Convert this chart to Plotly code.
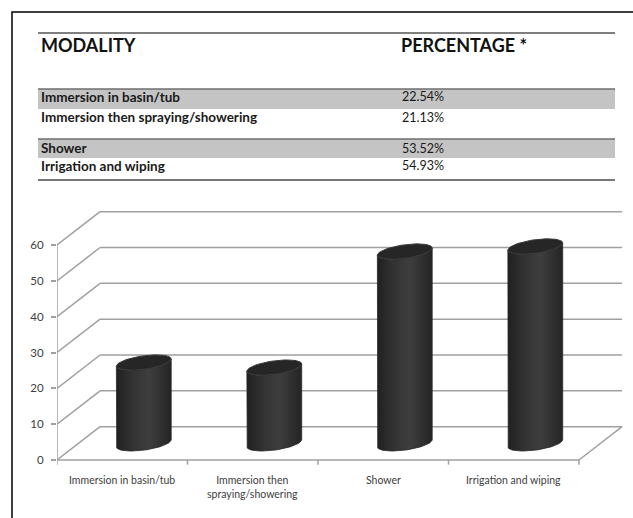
import numpy as np
import plotly.graph_objects as go

# ---------------- data ----------------
categories = ["Immersion in basin/tub", "Immersion then spraying/showering", "Shower", "Irrigation and wiping"]
axis_labels = ["Immersion in basin/tub", "Immersion then<br>spraying/showering", "Shower", "Irrigation and wiping"]
percentages = [22.54, 21.13, 53.52, 54.93]
y_ticks = [0, 10, 20, 30, 40, 50, 60]
table_header = ["MODALITY", "PERCENTAGE *"]

# ---------------- layout geometry ----------------
W, H = 633, 518
L, R, T, B = 57, 626, 200, 470          # plot area in pixels
SX = 130.5                              # px per category
Y0_PX = 460                             # pixel of value 0 on front plane
SY = (Y0_PX - 245) / 60.0               # px per value unit
x_range = [-0.5, -0.5 + (R - L) / SX]
y_range = [-(B - Y0_PX) / SY, (Y0_PX - T) / SY]
DX, DY = 0.33, 9.3                      # depth offset (data units)

def px(x):
    return (x - L) / (R - L)

def py(y):
    return (B - y) / (B - T)

FONT = "Lato"
GRID = "#a0a0a0"

shapes = []
annotations = []

# outer frame
shapes.append(dict(type="rect", xref="paper", yref="paper", x0=px(12), x1=px(660),
                   y0=py(12), y1=py(560), line=dict(color="black", width=1.5), layer="below"))

# ---------------- table ----------------
n = len(categories)
row_y = [97, 117, 148, 166]
band_top = [89, 139]
band_bot = [109, 158]
for bt, bb in zip(band_top, band_bot):
    shapes.append(dict(type="rect", xref="paper", yref="paper", x0=px(38), x1=px(615),
                       y0=py(bb), y1=py(bt), fillcolor="#c4c4c4", line=dict(width=0), layer="below"))
    shapes.append(dict(type="line", xref="paper", yref="paper", x0=px(38), x1=px(615),
                       y0=py(bt), y1=py(bt), line=dict(color="#6e6e6e", width=1.5), layer="below"))
for yy, w, c in [(33, 1.5, "#555555"), (180, 2, "#777777")]:
    shapes.append(dict(type="line", xref="paper", yref="paper", x0=px(38), x1=px(615),
                       y0=py(yy), y1=py(yy), line=dict(color=c, width=w), layer="below"))

annotations.append(dict(xref="paper", yref="paper", x=px(39), y=py(45), text="<b>%s</b>" % table_header[0],
                        showarrow=False, xanchor="left", yanchor="middle",
                        font=dict(family=FONT, size=18, color="#111111")))
annotations.append(dict(xref="paper", yref="paper", x=px(399), y=py(45), text="<b>%s</b>" % table_header[1],
                        showarrow=False, xanchor="left", yanchor="middle",
                        font=dict(family=FONT, size=18, color="#111111")))
for i in range(n):
    annotations.append(dict(xref="paper", yref="paper", x=px(39), y=py(row_y[i]),
                            text="<b>%s</b>" % categories[i], showarrow=False,
                            xanchor="left", yanchor="middle",
                            font=dict(family=FONT, size=13.5, color="#1a1a1a")))
    annotations.append(dict(xref="paper", yref="paper", x=px(400), y=py(row_y[i]),
                            text="%.2f%%" % percentages[i], showarrow=False,
                            xanchor="left", yanchor="middle",
                            font=dict(family=FONT, size=12.5, color="#1a1a1a")))

# ---------------- 3D frame ----------------
for v in y_ticks:
    shapes.append(dict(type="line", x0=-0.5 + DX, x1=n - 0.5 + DX, y0=v + DY, y1=v + DY,
                       line=dict(color=GRID, width=1.5), layer="below"))
    shapes.append(dict(type="line", x0=-0.5, x1=-0.5 + DX, y0=v, y1=v + DY,
                       line=dict(color=GRID, width=1.5), layer="below"))
# floor
shapes.append(dict(type="line", x0=-0.5, x1=n - 0.5, y0=0, y1=0, line=dict(color=GRID, width=1.5), layer="below"))
shapes.append(dict(type="line", x0=n - 0.5, x1=n - 0.5 + DX, y0=0, y1=DY, line=dict(color=GRID, width=1.5), layer="below"))
# y axis line
shapes.append(dict(type="line", x0=-0.5, x1=-0.5, y0=0, y1=max(y_ticks), line=dict(color=GRID, width=1.5), layer="below"))
# x ticks
for k in range(n + 1):
    shapes.append(dict(type="line", x0=k - 0.5, x1=k - 0.5, y0=0, y1=-1.3,
                       line=dict(color=GRID, width=1.5), layer="below"))

# ---------------- cylinders ----------------
fig = go.Figure()
a = 0.21        # half width (category units)
b = 1.9         # half height of ellipse (value units)
k_tilt = 1.0    # tilt of ellipse
for i, v in enumerate(percentages):
    cx = i + DX / 2
    base = DY / 2
    top = base + v
    t_front = np.linspace(np.pi, 2 * np.pi, 40)
    bx = cx + a * np.cos(t_front)
    by = base + b * np.sin(t_front) + k_tilt * np.cos(t_front)
    tx = (cx + a * np.cos(t_front))[::-1]
    ty = (top + b * np.sin(t_front) + k_tilt * np.cos(t_front))[::-1]
    xs = np.concatenate([[cx - a], bx, tx, [cx - a]])
    ys = np.concatenate([[top - k_tilt], by, ty, [top - k_tilt]])
    fig.add_trace(go.Scatter(x=xs, y=ys, mode="lines", fill="toself",
                             line=dict(color="#262626", width=0.8),
                             fillgradient=dict(type="horizontal",
                                               colorscale=[[0, "#202020"], [0.3, "#333333"],
                                                           [0.6, "#3e3e3e"], [1, "#242424"]]),
                             hoverinfo="skip", showlegend=False))
    t_all = np.linspace(0, 2 * np.pi, 80)
    fig.add_trace(go.Scatter(x=cx + a * np.cos(t_all),
                             y=top + b * np.sin(t_all) + k_tilt * np.cos(t_all),
                             mode="lines", fill="toself", fillcolor="#262626",
                             line=dict(color="#3a3a3a", width=1),
                             hoverinfo="skip", showlegend=False))

# x category labels
for i, lab in enumerate(axis_labels):
    annotations.append(dict(x=i, y=0, xref="x", yref="y", text=lab, showarrow=False,
                            xanchor="center", yanchor="top", yshift=-12, align="center",
                            font=dict(family=FONT, size=10.5, color="#404040")))

fig.update_layout(
    width=W, height=H,
    margin=dict(l=L, r=W - R, t=T, b=H - B, pad=0),
    plot_bgcolor="white", paper_bgcolor="white",
    shapes=shapes, annotations=annotations,
    xaxis=dict(range=x_range, showgrid=False, zeroline=False, showline=False,
               showticklabels=False, ticks="", fixedrange=True),
    yaxis=dict(range=y_range, showgrid=False, zeroline=False, showline=False,
               tickvals=y_ticks, ticks="outside", ticklen=5, tickcolor=GRID, tickwidth=1.5,
               tickfont=dict(family=FONT, size=11.5, color="#404040"), ticklabelstandoff=5,
               fixedrange=True),
)

fig.write_html("out.html")
